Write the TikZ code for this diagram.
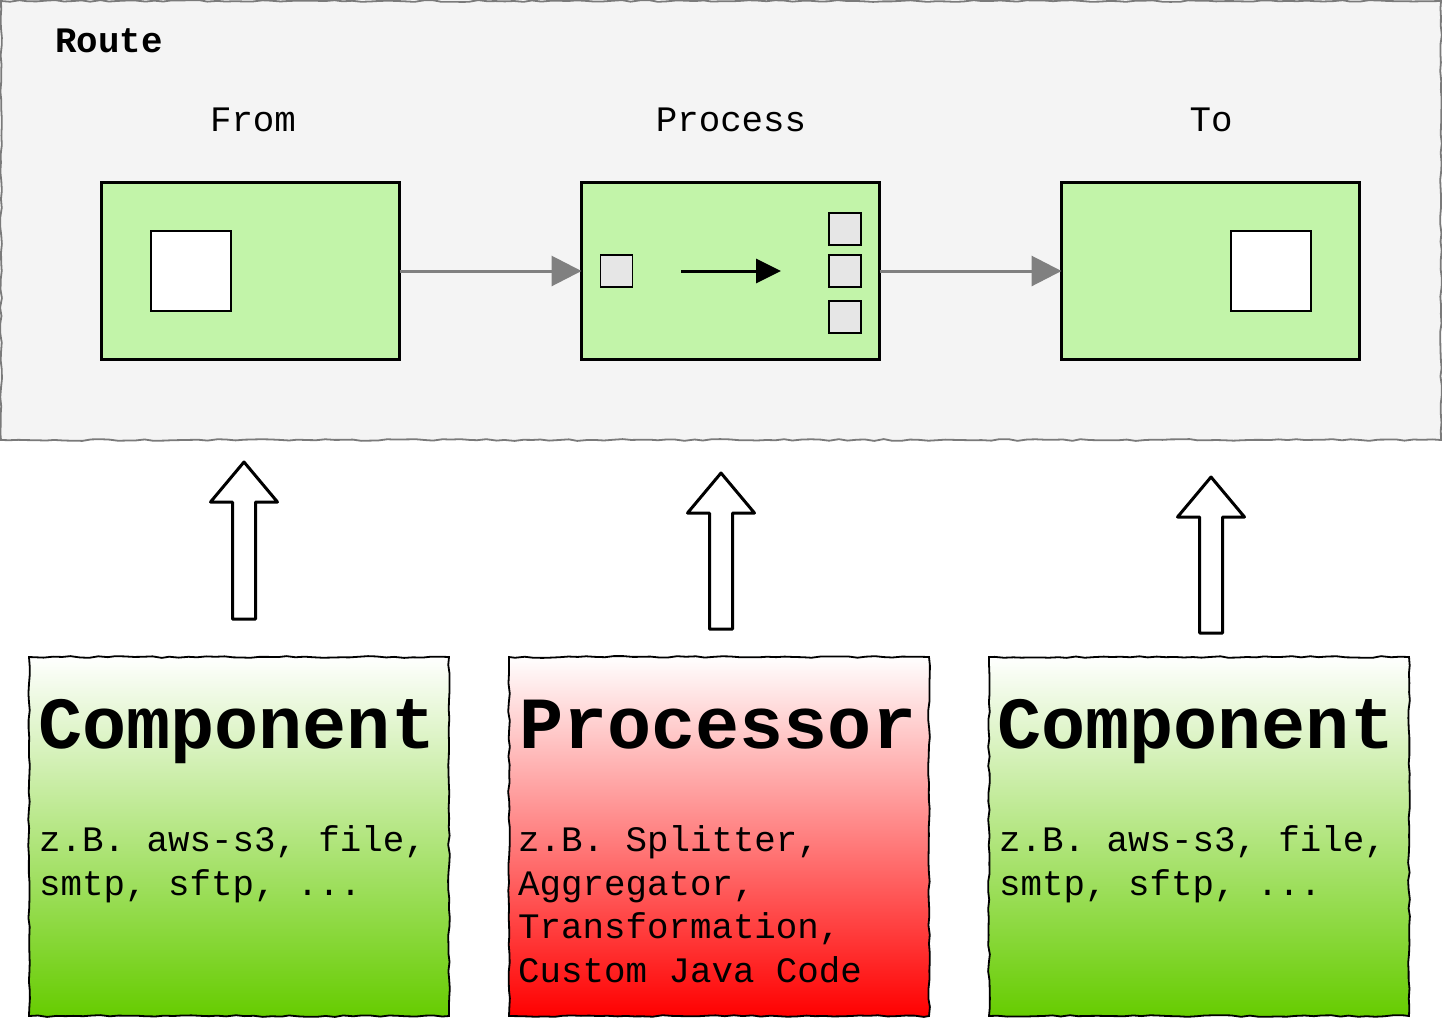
\documentclass[tikz,border=0pt]{standalone}
\usepackage{fontspec}
\setmainfont{Liberation Mono}
\usetikzlibrary{arrows.meta,decorations.pathmorphing}
\definecolor{routebg}{HTML}{F4F4F4}
\definecolor{routeline}{HTML}{7A7A7A}
\definecolor{boxgreen}{HTML}{C2F4A9}
\definecolor{sqgray}{HTML}{E6E6E6}
\definecolor{compgreen}{HTML}{66CC00}
\definecolor{connGray}{HTML}{808080}
\begin{document}
\begin{tikzpicture}[x=1pt,y=-1pt,
  sketchy/.style={decorate,decoration={random steps,segment length=9pt,amplitude=0.9pt}},
  routebox/.style={sketchy,draw=routeline,line width=1.8pt,fill=routebg},
  stagebox/.style={draw=black,line width=3.2pt,fill=boxgreen,minimum width=298pt,minimum height=177pt,inner sep=0pt,outer sep=0pt},
  whitesq/.style={draw=black,line width=1.2pt,fill=white,minimum size=80pt,inner sep=0pt},
  graysq/.style={draw=black,line width=1.2pt,fill=sqgray,minimum size=32pt,inner sep=0pt},
  conn/.style={draw=connGray,line width=3pt,-{Triangle[length=30pt,width=30pt]}},
  innerarrow/.style={draw=black,line width=3pt,-{Triangle[length=25pt,width=24pt]}},
  blockarrow/.style={draw=black,line width=3pt,fill=white,line join=round},
  bottombox/.style={sketchy,draw=black,line width=1.8pt,minimum width=420pt,minimum height=359pt,inner sep=0pt,outer sep=0pt},
  greenshade/.style={top color=white,bottom color=compgreen},
  redshade/.style={top color=white,bottom color=red},
  titletext/.style={anchor=base west,inner sep=0pt,font=\bfseries\fontsize{73.5}{74}\selectfont},
  bodytext/.style={anchor=base west,inner sep=0pt,align=left,font=\fontsize{35.8}{43.5}\selectfont},
  labeltext/.style={anchor=base,inner sep=0pt,font=\fontsize{35.8}{40}\selectfont}
]
\pgfmathsetseed{7}
\useasboundingbox (0,0) rectangle (1442,1018);

% route container
\path[routebox] (1,1) rectangle (1441,440);
\node[anchor=base west,inner sep=0pt,font=\bfseries\fontsize{35.8}{40}\selectfont] (routelbl) at (55,52) {Route};

\node[labeltext] (lfrom) at (253,131) {From};
\node[labeltext] (lproc) at (731,131) {Process};
\node[labeltext] (lto) at (1211,131) {To};

% stage boxes
\node[stagebox] (from) at (250.5,271) {};
\node[stagebox] (proc) at (730.5,271) {};
\node[stagebox] (to) at (1210.5,271) {};

\node[whitesq] (fromsq) at (191,271) {};
\node[whitesq] (tosq) at (1271,271) {};

\node[graysq] (pin) at (616.5,271) {};
\node[graysq] (pout1) at (845,229) {};
\node[graysq] (pout2) at (845,271) {};
\node[graysq] (pout3) at (845,317) {};
\coordinate (ia) at (681,271);
\coordinate (ib) at (781,271);
\draw[innerarrow] (ia) -- (ib);

\draw[conn] (from.east) -- (proc.west);
\draw[conn] (proc.east) -- (to.west);

% bottom boxes
\node[bottombox,greenshade] (comp1) at (239,836.5) {};
\node[bottombox,redshade] (procr) at (719,836.5) {};
\node[bottombox,greenshade] (comp2) at (1199,836.5) {};

\node[titletext] (t1) at (38,748) {Component};
\node[bodytext] (b1) at (39,895) {z.B. aws-s3, file,\\smtp, sftp, ...};

\node[titletext] (t2) at (519,748) {Processor};
\node[bodytext] (b2) at (518,982) {z.B. Splitter,\\Aggregator,\\Transformation,\\Custom Java Code};

\node[titletext] (t3) at (997,748) {Component};
\node[bodytext] (b3) at (999,895) {z.B. aws-s3, file,\\smtp, sftp, ...};

% block arrows
\coordinate (a1) at (244,619);
\coordinate (a2) at (721,629);
\coordinate (a3) at (1211,633);
\draw[blockarrow] (a1) ++(-11.5,0) -- ++(0,-117) -- ++(-22,0) -- ++(33.5,-40) -- ++(33.5,40) -- ++(-22,0) -- ++(0,117) -- cycle;
\draw[blockarrow] (a2) ++(-11.5,0) -- ++(0,-116) -- ++(-22,0) -- ++(33.5,-40) -- ++(33.5,40) -- ++(-22,0) -- ++(0,116) -- cycle;
\draw[blockarrow] (a3) ++(-11.5,0) -- ++(0,-116) -- ++(-22,0) -- ++(33.5,-40) -- ++(33.5,40) -- ++(-22,0) -- ++(0,116) -- cycle;
\end{tikzpicture}
\end{document}
